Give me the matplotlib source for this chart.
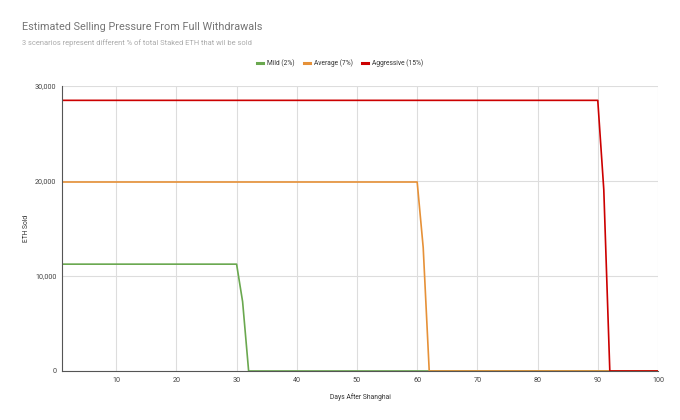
import numpy as np
from matplotlib import pyplot as plt

# breakpoints of each scenario (day, ETH sold per day)
mild_days = [1, 30, 31, 32, 100]
mild_vals = [11250, 11250, 7300, 0, 0]
avg_days = [1, 60, 61, 62, 100]
avg_vals = [19900, 19900, 13000, 0, 0]
aggr_days = [1, 90, 91, 92, 100]
aggr_vals = [28500, 28500, 19100, 0, 0]

labels = ['Mild (2%)', 'Average (7%)', 'Aggressive (15%)']
colors = ['#6aa84f', '#e69138', '#cc0000']
x_ticks = [10, 20, 30, 40, 50, 60, 70, 80, 90, 100]
y_ticks = [0, 10000, 20000, 30000]

plt.rcParams['font.family'] = ['Roboto', 'DejaVu Sans']

fig = plt.figure(figsize=(6.8, 4.2), dpi=100)
ax = fig.add_axes([0.0912, 0.1167, 0.8764, 0.6783])

ax.plot(mild_days, mild_vals, color=colors[0], lw=1.2, label=labels[0])
ax.plot(avg_days, avg_vals, color=colors[1], lw=1.2, label=labels[1])
ax.plot(aggr_days, aggr_vals, color=colors[2], lw=1.2, label=labels[2])

ax.set_xlim(1, 100)
ax.set_ylim(0, 30000)
ax.set_xticks(x_ticks)
ax.set_yticks(y_ticks)
ax.set_yticklabels(['{:,}'.format(v) for v in y_ticks])
ax.grid(True, color='#dddddd', lw=0.8)
ax.set_axisbelow(True)
for s in ['top', 'right']:
    ax.spines[s].set_visible(False)
ax.spines['left'].set_color('#555555')
ax.spines['bottom'].set_color('#555555')
ax.tick_params(length=0, labelsize=5.2, colors='#444444', pad=4)

ax.set_xlabel('Days After Shanghai', fontsize=4.9, color='#333333', labelpad=7)
ax.set_ylabel('ETH Sold', fontsize=4.9, color='#333333', labelpad=3.5)

fig.text(0.032, 0.936, 'Estimated Selling Pressure From Full Withdrawals',
         fontsize=7.8, color='#757575', va='center')
fig.text(0.032, 0.898, '3 scenarios represent different % of total Staked ETH that wil be sold',
         fontsize=5.4, color='#aaaaaa', va='center')

leg = fig.legend(loc='center', bbox_to_anchor=(0.5, 0.85), ncol=3, frameon=False,
                 fontsize=4.8, handlelength=0.9, handletextpad=0.6, columnspacing=1.35)
for h in leg.legend_handles:
    h.set_linewidth(2.2)
for t in leg.get_texts():
    t.set_color('#333333')

plt.savefig('out.png', dpi=100)
